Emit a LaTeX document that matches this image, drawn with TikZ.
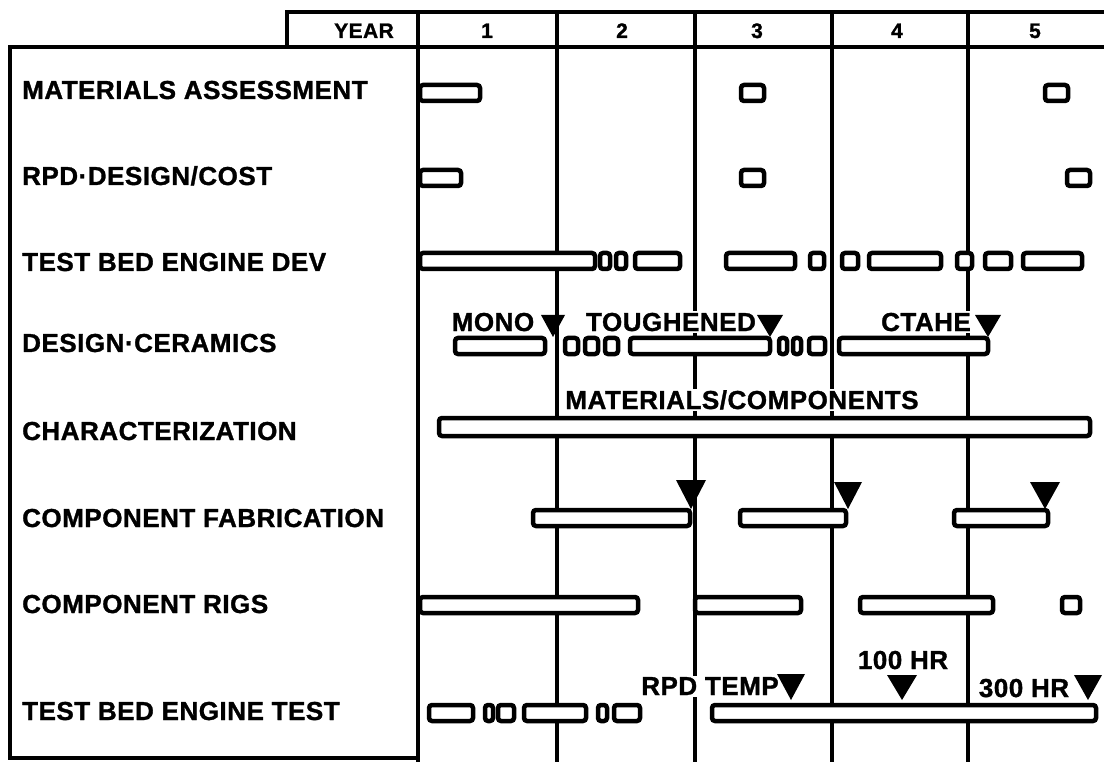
\documentclass[tikz,border=0pt]{standalone}
\usepackage{fontspec}
\setmainfont{Liberation Sans}[BoldFeatures={FakeBold=1.2,LetterSpace=2}]
\begin{document}
\begin{tikzpicture}[x=1pt,y=-1pt,
  grid/.style={line width=3.5pt},
  gbar/.style={draw, line width=4.5pt, fill=white, rounded corners=3pt},
  lbl/.style={anchor=base west, inner sep=0pt, font=\fontsize{26}{30}\selectfont\bfseries},
  tag/.style={anchor=base, inner sep=1.5pt, fill=white, font=\fontsize{26}{30}\selectfont\bfseries},
  hdr/.style={anchor=base, inner sep=0pt, font=\fontsize{21}{25}\selectfont\bfseries},
  ms/.style={fill=black}]
\useasboundingbox (0,0) rectangle (1104,762);

% frame and year grid
\draw[grid] (287,47) -- (287,12) -- (1104,12);
\draw[grid] (1104,47) -- (10,47) -- (10,758) -- (418,758);
\foreach \x in {418,557,695,832,968} \draw[grid] (\x,12) -- (\x,762);

% header
\node[hdr, anchor=base east] (hyear) at (394,38) {YEAR};
\node[hdr] (y1) at (487,38) {1};
\node[hdr] (y2) at (622,38) {2};
\node[hdr] (y3) at (757,38) {3};
\node[hdr] (y4) at (897,38) {4};
\node[hdr] (y5) at (1035,38) {5};

% row labels
\node[lbl] (r1) at (22,99) {MATERIALS ASSESSMENT};
\node[lbl] (r2) at (22,185) {RPD·DESIGN/COST};
\node[lbl] (r3) at (22,271) {TEST BED ENGINE DEV};
\node[lbl] (r4) at (22,352) {DESIGN·CERAMICS};
\node[lbl] (r5) at (22,440) {CHARACTERIZATION};
\node[lbl] (r6) at (22,527) {COMPONENT FABRICATION};
\node[lbl] (r7) at (22,613) {COMPONENT RIGS};
\node[lbl] (r8) at (22,720) {TEST BED ENGINE TEST};

% bar labels
\node[tag] (tmono) at (493,331) {MONO};
\node[tag] (ttough) at (671,331) {TOUGHENED};
\node[tag] (tctahe) at (926,331) {CTAHE};
\node[tag] (tmat) at (742,409) {MATERIALS/COMPONENTS};
\node[tag] (trpd) at (710,695) {RPD TEMP};
\node[tag] (t100) at (903,669) {100 HR};
\node[tag] (t300) at (1024,697) {300 HR};

% bars
\foreach \a/\b in {420/480, 741/764, 1045/1068}
  \draw[gbar] (\a,85) rectangle (\b,101);
\foreach \a/\b in {420/461, 741/764, 1067/1090}
  \draw[gbar] (\a,170) rectangle (\b,186);
\foreach \a/\b in {420/595, 600/610, 616/626, 635/680, 726/795, 810/824, 842/858, 869/941, 957/972, 985/1011, 1023/1082}
  \draw[gbar] (\a,253) rectangle (\b,269);
\foreach \a/\b in {455/545, 565/578, 585/598, 605/618, 630/770, 779/787, 793/801, 809/825, 839/988}
  \draw[gbar] (\a,338) rectangle (\b,354);
\draw[gbar] (439,418) rectangle (1090,436);
\foreach \a/\b in {533/690, 740/846, 954/1048}
  \draw[gbar] (\a,510) rectangle (\b,526);
\foreach \a/\b in {420/638, 695/801, 860/993, 1062/1080}
  \draw[gbar] (\a,597) rectangle (\b,613);
\foreach \a/\b in {429/473, 485/493, 498/514, 524/586, 598/607, 614/640, 712/1096}
  \draw[gbar] (\a,705) rectangle (\b,721);

% milestones
\foreach \c/\t/\p/\w in {553/315/337/12, 770/315/337/13, 988/315/337/13,
                         691/480/509/15, 848/482/509/14, 1045/482/509/15,
                         791/674/700/14, 902/675/700/15, 1088/675/700/14}
  \fill[ms] (\c-\w,\t) -- (\c+\w,\t) -- (\c,\p) -- cycle;
\end{tikzpicture}
\end{document}
